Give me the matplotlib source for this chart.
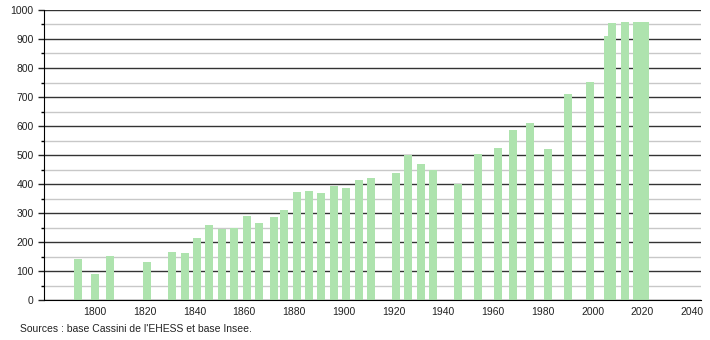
import matplotlib
matplotlib.use('Agg')
import matplotlib.pyplot as plt
from matplotlib.ticker import MultipleLocator

years = [1793, 1800, 1806, 1821, 1831, 1836, 1841, 1846, 1851, 1856,
         1861, 1866, 1872, 1876, 1881, 1886, 1891, 1896, 1901, 1906,
         1911, 1921, 1926, 1931, 1936, 1946, 1954, 1962, 1968, 1975,
         1982, 1990, 1999, 2006, 2008, 2013, 2018, 2019, 2020, 2021]
population = [142, 90, 152, 131, 166, 162, 214, 259, 246, 247,
              290, 266, 286, 310, 372, 376, 369, 393, 386, 414,
              421, 438, 500, 469, 448, 400, 505, 524, 586, 610,
              521, 710, 752, 910, 955, 959, 958, 958, 958, 958]
x_ticks = [1800, 1820, 1840, 1860, 1880, 1900, 1920, 1940, 1960, 1980, 2000, 2020, 2040]
source = "Sources : base Cassini de l'EHESS et base Insee."

plt.rcParams['font.family'] = ['Liberation Sans', 'DejaVu Sans']

fig = plt.figure(figsize=(7.1, 3.4), dpi=100)
ax = fig.add_axes([0.062, 0.1176, 0.925, 0.853])

ax.bar(years, population, width=3.2, color='#aee3ae', zorder=3, linewidth=0)

ax.set_xlim(1779.5, 2043.5)
ax.set_ylim(0, 1000)
ax.set_xticks(x_ticks)
ax.yaxis.set_major_locator(MultipleLocator(100))
ax.yaxis.set_minor_locator(MultipleLocator(50))
ax.grid(axis='y', which='major', color='#333333', linewidth=1, zorder=1)
ax.grid(axis='y', which='minor', color='#c8c8c8', linewidth=1, zorder=1)

for sp in ('top', 'right'):
    ax.spines[sp].set_visible(False)
ax.spines['left'].set_color('black')
ax.spines['bottom'].set_color('black')
ax.spines['left'].set_zorder(4)
ax.spines['bottom'].set_zorder(4)

ax.tick_params(axis='x', length=0, labelsize=7.5, pad=5, colors='#222222')
ax.tick_params(axis='y', which='major', length=4, width=1, labelsize=7.5, colors='#222222')
ax.tick_params(axis='y', which='minor', length=2, width=1)

fig.text(0.028, 0.025, source, fontsize=7.5, color='#222222')

fig.savefig('out.png', dpi=100)
